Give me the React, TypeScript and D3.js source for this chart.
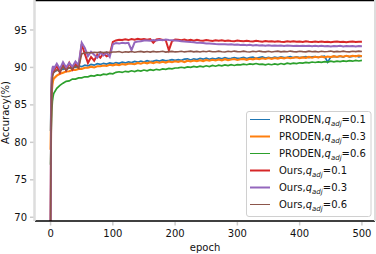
import React from "react";
import * as d3 from "d3";

const epochs = [0, 1, 2, 3, 4, 5, 10, 15, 20, 25, 30, 35, 40, 45, 50, 55, 60, 65, 70, 75, 80, 85, 90, 95, 100,
  105, 110, 115, 120, 125, 130, 135, 140, 145, 150, 155, 160, 165, 170, 175, 180, 185, 190, 195, 200,
  205, 210, 215, 220, 225, 230, 235, 240, 245, 250, 255, 260, 265, 270, 275, 280, 285, 290, 295, 300,
  305, 310, 315, 320, 325, 330, 335, 340, 345, 350, 355, 360, 365, 370, 375, 380, 385, 390, 395, 400,
  405, 410, 415, 420, 425, 430, 435, 440, 445, 450, 455, 460, 465, 470, 475, 480, 485, 490, 495, 500];

const proden01 = [81.5, 86.8, 88.4, 89.0, 89.3, 89.4,
  89.6, 89.8, 89.75, 90.0, 89.9, 90.1, 90.0, 90.2,
  90.1, 90.3, 90.2, 90.4, 90.3, 90.5, 90.4, 90.55, 90.45, 90.6, 90.5,
  90.65, 90.55, 90.7, 90.6, 90.75, 90.65, 90.8, 90.7, 90.85, 90.72, 90.9, 90.78, 90.85, 90.95, 90.85, 91.0, 90.88, 90.95, 91.05, 90.95,
  91.05, 90.95, 91.1, 91.15, 91.0, 91.15, 91.05, 91.2, 91.1, 91.25, 91.08, 91.22, 91.12, 91.28, 91.15, 91.3, 91.18, 91.22, 91.32, 91.2,
  91.25, 91.35, 91.18, 91.3, 91.36, 91.2, 91.32, 91.4, 91.25, 91.35, 91.25, 91.38, 91.28, 91.42, 91.3, 91.36, 91.45, 91.3, 91.4, 91.32,
  91.38, 91.45, 91.32, 91.42, 91.46, 91.35, 91.44, 91.5, 90.7, 91.4, 91.48, 91.4, 91.5, 91.38, 91.55, 91.42, 91.48, 91.55, 91.4, 91.5];

const proden03 = [79.0, 84.5, 86.8, 87.7, 88.2, 88.5,
  88.9, 89.15, 89.3, 89.45, 89.5, 89.65, 89.65, 89.8,
  89.8, 89.95, 89.95, 90.1, 90.0, 90.15, 90.15, 90.25, 90.2, 90.35, 90.28,
  90.4, 90.3, 90.45, 90.38, 90.5, 90.5, 90.42, 90.6, 90.5, 90.65, 90.55, 90.68, 90.58, 90.72, 90.62, 90.75, 90.65, 90.8, 90.7, 90.82,
  90.75, 90.85, 90.72, 90.9, 90.8, 90.92, 90.82, 90.96, 90.85, 91.0, 90.9, 91.02, 90.92, 91.05, 90.95, 91.1, 90.98, 91.06, 91.12, 91.0,
  91.08, 91.14, 91.02, 91.16, 91.08, 91.2, 91.1, 91.22, 91.12, 91.25, 91.15, 91.26, 91.18, 91.3, 91.2, 91.32, 91.22, 91.3, 91.35, 91.25,
  91.34, 91.28, 91.4, 91.3, 91.42, 91.32, 91.45, 91.35, 91.46, 91.38, 91.5, 91.4, 91.52, 91.42, 91.55, 91.45, 91.56, 91.48, 91.58, 91.5];

const proden06 = [77.0, 81.5, 84.3, 85.5, 86.1, 86.5,
  87.2, 87.6, 87.9, 88.15, 88.2, 88.45, 88.45, 88.6,
  88.6, 88.75, 88.75, 88.9, 88.85, 89.0, 88.95, 89.1, 89.05, 89.2, 89.15,
  89.35, 89.42, 89.33, 89.48, 89.4, 89.55, 89.45, 89.6, 89.5, 89.65, 89.55, 89.7, 89.6, 89.75, 89.66, 89.8, 89.75, 89.88, 89.8, 89.92,
  89.95, 90.02, 89.95, 90.08, 90.0, 90.14, 90.04, 90.16, 90.08, 90.22, 90.12, 90.26, 90.16, 90.3, 90.2, 90.34, 90.24, 90.36, 90.26, 90.38,
  90.34, 90.44, 90.36, 90.48, 90.4, 90.52, 90.42, 90.44, 90.34, 90.45, 90.36, 90.48, 90.38, 90.52, 90.42, 90.56, 90.48, 90.58, 90.5, 90.62,
  90.58, 90.68, 90.6, 90.72, 90.66, 90.75, 90.68, 90.78, 90.7, 90.83, 90.75, 90.85, 90.78, 90.88, 90.8, 90.9, 90.83, 90.93, 90.86, 90.95];

const ours01 = [69.0, 84.0, 88.6, 89.4, 89.8, 89.5,
  90.2, 89.3, 90.4, 89.6, 90.6, 89.7, 90.4, 90.0,
  93.1, 91.8, 90.6, 91.4, 90.9, 91.7, 91.3, 91.9, 91.5, 91.7, 93.4,
  93.6, 93.7, 93.65, 93.75, 93.65, 93.78, 93.7, 93.82, 93.72, 93.8, 93.7, 93.78, 93.3, 93.72, 93.78, 93.68, 93.62, 92.3, 93.5, 93.72,
  93.68, 93.62, 93.72, 93.6, 93.7, 93.58, 93.68, 93.6, 93.56, 93.66, 93.58, 93.54, 93.64, 93.56, 93.62, 93.52, 93.6, 93.54, 93.5, 93.58,
  93.54, 93.48, 93.56, 93.5, 93.46, 93.55, 93.48, 93.44, 93.52, 93.46, 93.5, 93.42, 93.5, 93.44, 93.4, 93.48, 93.42, 93.5, 93.42, 93.46,
  93.4, 93.48, 93.42, 93.38, 93.46, 93.4, 93.45, 93.38, 93.44, 93.36, 93.42, 93.46, 93.38, 93.44, 93.36, 93.42, 93.45, 93.38, 93.42, 93.44];

const ours03 = [69.0, 85.0, 89.2, 89.9, 90.2, 89.8,
  90.5, 89.8, 90.7, 90.0, 90.6, 90.1, 90.8, 90.3,
  93.3, 92.6, 91.5, 92.1, 91.7, 91.3, 92.0, 91.6, 92.0, 91.4, 93.1,
  93.25, 93.18, 93.3, 93.22, 93.28, 92.3, 93.35, 93.45, 93.5, 93.58, 93.6, 93.56, 93.66, 93.6, 93.7, 93.64, 93.72, 93.66, 93.64, 93.6,
  93.55, 93.5, 93.45, 93.42, 93.38, 93.35, 93.3, 93.28, 93.25, 93.2, 93.18, 93.15, 93.12, 93.1, 93.08, 93.1, 93.05, 93.08, 93.02, 93.05,
  93.0, 93.03, 92.97, 93.01, 92.94, 92.98, 92.93, 92.97, 92.91, 92.95, 92.89, 92.94, 92.89, 92.93, 92.87, 92.92, 92.89, 92.85, 92.9, 92.87,
  92.9, 92.85, 92.89, 92.83, 92.88, 92.84, 92.88, 92.83, 92.87, 92.81, 92.86, 92.83, 92.88, 92.81, 92.85, 92.82, 92.86, 92.81, 92.85, 92.84];

const ours06 = [69.0, 83.0, 87.6, 88.6, 89.1, 89.3,
  89.7, 89.4, 90.1, 89.6, 90.0, 89.8, 90.2, 89.9,
  91.8, 91.95, 92.0, 91.95, 92.02, 91.98, 92.05, 92.0, 92.04, 91.98, 92.05,
  92.05, 92.12, 92.0, 92.1, 92.04, 92.12, 92.02, 92.1, 92.14, 92.04, 92.12, 92.05, 92.14, 92.07, 92.1, 92.16, 92.05, 92.11, 92.14, 92.07,
  92.1, 92.16, 92.07, 92.13, 92.17, 92.08, 92.14, 92.07, 92.16, 92.09, 92.18, 92.1, 92.09, 92.17, 92.1, 92.06, 92.15, 92.09, 92.18, 92.11,
  92.09, 92.17, 92.1, 92.06, 92.15, 92.09, 92.18, 92.11, 92.08, 92.16, 92.06, 92.13, 92.17, 92.08, 92.14, 92.09, 92.18, 92.11, 92.08, 92.15,
  92.11, 92.08, 92.17, 92.09, 92.14, 92.06, 92.15, 92.09, 92.12, 92.18, 92.08, 92.14, 92.09, 92.17, 92.1, 92.08, 92.15, 92.11, 92.17, 92.12];

const seriesNames = ["PRODEN", "PRODEN", "PRODEN", "Ours", "Ours", "Ours"];
const seriesQ = ["0.1", "0.3", "0.6", "0.1", "0.3", "0.6"];
const seriesValues = [proden01, proden03, proden06, ours01, ours03, ours06];
const seriesColors = ["#1f77b4", "#ff7f0e", "#2ca02c", "#d62728", "#9467bd", "#8c564b"];
const seriesWidths = [1.7, 2.1, 1.7, 2.0, 2.0, 1.6];
const legendWidths = [1, 2, 1, 2, 2, 1];

const xTicks = [0, 100, 200, 300, 400, 500];
const yTicks = [70, 75, 80, 85, 90, 95];

const W = 376, H = 254;
const L = 35, R = 375, T = 0, B = 221;

export default function App() {
  const x = d3.scaleLinear().domain([-25, 521]).range([L, R]);
  const y = d3.scaleLinear().domain([69.5, 99.0]).range([B, T]);
  const font = "DejaVu Sans, sans-serif";
  const line = (vals: number[]) =>
    d3.line<number>().x((_, i) => x(epochs[i])).y((v) => y(v))(vals) || "";
  const legX = 246.5, legY = 111.5, legW = 124.5, legH = 105;
  return (
    <div style={{ position: "absolute", left: 0, top: 0 }}>
      <svg width={W} height={H} style={{ display: "block", background: "#fff" }}>
        <defs>
          <clipPath id="plot">
            <rect x={L} y={T} width={R - L} height={B - T} />
          </clipPath>
        </defs>
        <g clipPath="url(#plot)">
          {seriesValues.map((vals, i) => (
            <path key={i} d={line(vals)} fill="none" stroke={seriesColors[i]}
              strokeWidth={seriesWidths[i]} strokeLinejoin="miter" />
          ))}
        </g>
        <line x1={L} x2={R} y1={T + 0.5} y2={T + 0.5} stroke="#000" strokeWidth={1.5} />
        <line x1={L} x2={R} y1={B} y2={B} stroke="#000" strokeWidth={1.5} />
        <line x1={L - 0.5} x2={L - 0.5} y1={T} y2={B} stroke="#ddd" strokeWidth={2.5} />
        <line x1={R} x2={R} y1={T} y2={B} stroke="#ddd" strokeWidth={2} />
        {yTicks.map((t) => (
          <g key={t}>
            <line x1={L - 5} x2={L - 1.5} y1={y(t)} y2={y(t)} stroke="#ccc" strokeWidth={1.5} />
            <text x={L - 8} y={y(t)} dy="0.36em" textAnchor="end" fontFamily={font} fontSize={10} fill="#111">{t}</text>
          </g>
        ))}
        {xTicks.map((t) => (
          <g key={t}>
            <line x1={x(t)} x2={x(t)} y1={B + 1} y2={B + 4.5} stroke="#ccc" strokeWidth={1.5} />
            <text x={x(t)} y={B + 15.5} textAnchor="middle" fontFamily={font} fontSize={10} fill="#111">{t}</text>
          </g>
        ))}
        <text x={(L + R) / 2} y={B + 30} textAnchor="middle" fontFamily={font} fontSize={10} fill="#111">epoch</text>
        <text transform={`translate(${8.5},${(T + B) / 2 + 2}) rotate(-90)`} textAnchor="middle"
          fontFamily={font} fontSize={10} fill="#111">Accuracy(%)</text>
        <rect x={legX} y={legY} width={legW} height={legH} rx={2.5} fill="#fff" fillOpacity={0.8}
          stroke="#d0d0d0" strokeWidth={1} />
        {seriesNames.map((n, i) => {
          const cy = legY + 8 + i * 17;
          return (
            <g key={i}>
              <line x1={250} x2={270} y1={cy} y2={cy} stroke={seriesColors[i]} strokeWidth={legendWidths[i]} />
              <text x={279} y={cy} dy="0.36em" fontFamily={font} fontSize={10} fill="#111">
                <tspan>{n},</tspan>
                <tspan fontStyle="italic">q</tspan>
                <tspan fontStyle="italic" fontSize={7} dy={2.5}>adj</tspan>
                <tspan dy={-2.5}>={seriesQ[i]}</tspan>
              </text>
            </g>
          );
        })}
      </svg>
    </div>
  );
}
